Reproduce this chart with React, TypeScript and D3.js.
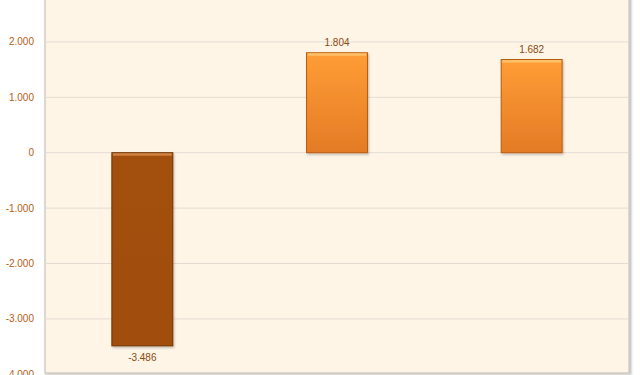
import React from "react";
import * as d3 from "d3";

const categories = ["A", "B", "C"];
const values = [-3.486, 1.804, 1.682];
const valueLabels = ["-3.486", "1.804", "1.682"];
const tickValues = [-4, -3, -2, -1, 0, 1, 2];
const tickLabels = ["-4.000", "-3.000", "-2.000", "-1.000", "0", "1.000", "2.000"];

const W = 640;
const H = 375;

export default function App() {
  const plotLeft = 45;
  const plotRight = 629;
  const plotTop = -14;
  const plotBottom = 373;
  const x = d3.scaleBand<string>().domain(categories).range([plotLeft, plotRight]).padding(0);
  const y = d3.scaleLinear().domain([-4, 3]).range([374.3, -13.5]);
  const barW = x.bandwidth() * 0.313;
  const tickColor = "#B35E12";
  const labelColor = "#8C4A12";

  return (
    <svg width={W} height={H} style={{ position: "absolute", left: 0, top: 0 }}>
      <defs>
        <linearGradient id="orangeGrad" x1="0" y1="0" x2="0" y2="1">
          <stop offset="0%" stopColor="#FF9D35" />
          <stop offset="100%" stopColor="#E47B26" />
        </linearGradient>
        <linearGradient id="brownGrad" x1="0" y1="0" x2="0" y2="1">
          <stop offset="0%" stopColor="#A3500C" />
          <stop offset="100%" stopColor="#A04D0B" />
        </linearGradient>
        <filter id="shadow" x="-20%" y="-20%" width="140%" height="140%">
          <feDropShadow dx="1" dy="1.5" stdDeviation="1" floodColor="#000" floodOpacity="0.25" />
        </filter>
        <filter id="plotShadow" x="-5%" y="-5%" width="110%" height="110%">
          <feDropShadow dx="1.5" dy="1.5" stdDeviation="0.8" floodColor="#000" floodOpacity="0.3" />
        </filter>
      </defs>
      <rect x={0} y={0} width={W} height={H} fill="#FFFFFF" />
      <rect
        x={plotLeft}
        y={plotTop}
        width={plotRight - plotLeft}
        height={plotBottom - plotTop}
        fill="#FEF5E7"
        stroke="#C9C4BE"
        strokeWidth={1.2}
        filter="url(#plotShadow)"
      />
      {tickValues.map((t) => (
        <line
          key={"g" + t}
          x1={plotLeft}
          x2={plotRight}
          y1={y(t)}
          y2={y(t)}
          stroke="#E3DCD2"
          strokeWidth={1}
        />
      ))}
      {tickValues.map((t, i) => (
        <text
          key={"t" + t}
          x={34}
          y={y(t)}
          dy="0.35em"
          textAnchor="end"
          fontFamily="Liberation Sans, Arial, sans-serif"
          fontSize={10}
          fill={tickColor}
        >
          {tickLabels[i]}
        </text>
      ))}
      {categories.map((c, i) => {
        const v = values[i];
        const cx = (x(c) as number) + x.bandwidth() / 2;
        const x0 = cx - barW / 2;
        const y0 = Math.min(y(v), y(0));
        const h = Math.abs(y(v) - y(0));
        const neg = v < 0;
        const edge = neg ? "#6E3306" : "#B85C12";
        const hi = neg ? "#D98A4A" : "#FFC873";
        return (
          <g key={c}>
            <rect
              x={x0}
              y={y0}
              width={barW}
              height={h}
              fill={neg ? "url(#brownGrad)" : "url(#orangeGrad)"}
              stroke={edge}
              strokeWidth={1}
              filter="url(#shadow)"
            />
            <rect x={x0 + 1} y={y0 + 0.5} width={barW - 2} height={2.5} fill={hi} opacity={0.85} />
            <text
              x={cx}
              y={neg ? y(v) + 12 : y(v) - 10}
              dy="0.35em"
              textAnchor="middle"
              fontFamily="Liberation Sans, Arial, sans-serif"
              fontSize={10}
              fill={labelColor}
            >
              {valueLabels[i]}
            </text>
          </g>
        );
      })}
    </svg>
  );
}
